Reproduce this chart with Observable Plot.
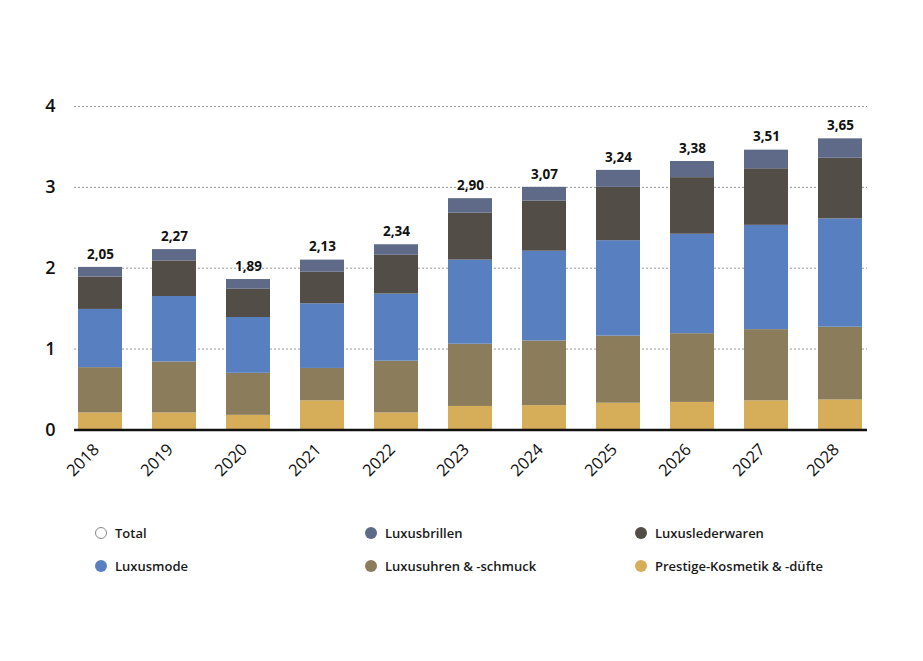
<!DOCTYPE html>
<html><head><meta charset="utf-8">
<script src="https://cdn.jsdelivr.net/npm/d3@7"></script>
<script src="https://cdn.jsdelivr.net/npm/@observablehq/plot@0.6"></script>
<style>
html,body{margin:0;padding:0;background:#fff;}
#wrap{position:relative;width:923px;height:661px;font-family:"Open Sans",sans-serif;}
.item{position:absolute;display:flex;align-items:center;font-size:13px;font-weight:600;color:#1a1a1a;white-space:nowrap;}
.dot{width:12px;height:12px;border-radius:50%;margin-right:8px;box-sizing:border-box;}
</style></head><body>
<div id="wrap"><div id="chart"></div><div id="legend"></div></div>
<script>
const years = ["2018","2019","2020","2021","2022","2023","2024","2025","2026","2027","2028"];
const kosmetik = [0.21,0.21,0.18,0.36,0.21,0.29,0.30,0.33,0.34,0.36,0.37];
const uhren    = [0.56,0.63,0.52,0.40,0.64,0.77,0.80,0.83,0.85,0.88,0.90];
const mode     = [0.72,0.81,0.69,0.80,0.83,1.04,1.11,1.18,1.23,1.29,1.34];
const leder    = [0.40,0.44,0.35,0.39,0.48,0.58,0.62,0.66,0.70,0.70,0.75];
const brillen  = [0.12,0.14,0.12,0.15,0.13,0.18,0.17,0.21,0.20,0.23,0.24];
const totals   = [2.05,2.27,1.89,2.13,2.34,2.90,3.07,3.24,3.38,3.51,3.65];
const seriesNames = ["Prestige-Kosmetik & -düfte","Luxusuhren & -schmuck","Luxusmode","Luxuslederwaren","Luxusbrillen"];
const seriesColors = ["#d6ad58","#8b7d5c","#5880c1","#524d47","#5f6a89"];
const yTicks = [0,1,2,3,4];
const legendItems = [
  {name:"Total", color:"#ffffff", stroke:"#888"},
  {name:"Luxusbrillen", color:"#5f6a89"},
  {name:"Luxuslederwaren", color:"#524d47"},
  {name:"Luxusmode", color:"#5880c1"},
  {name:"Luxusuhren & -schmuck", color:"#8b7d5c"},
  {name:"Prestige-Kosmetik & -düfte", color:"#d6ad58"}
];

const seriesValues = [kosmetik, uhren, mode, leder, brillen];
const rows = [];
years.forEach((yr, i) => {
  seriesNames.forEach((s, k) => rows.push({year: yr, series: s, value: seriesValues[k][i]}));
});
const tops = years.map((yr, i) => ({
  year: yr,
  top: seriesValues.reduce((a, arr) => a + arr[i], 0),
  label: totals[i].toFixed(2).replace(".", ",")
}));

const chart = Plot.plot({
  width: 923, height: 500,
  marginLeft: 74, marginRight: 56, marginTop: 106, marginBottom: 70.6,
  style: {fontFamily: '"Open Sans", sans-serif', background: "#fff", overflow: "visible"},
  x: {type: "band", domain: years, paddingInner: 0.4, paddingOuter: 0, label: null},
  y: {domain: [0, 4], label: null},
  color: {domain: seriesNames, range: seriesColors},
  marks: [
    Plot.gridY([1,2,3,4], {stroke: "#9a9a9a", strokeOpacity: 1, strokeDasharray: "2,2", strokeWidth: 1}),
    Plot.barY(rows, {x: "year", y: "value", fill: "series"}),
    Plot.ruleY([0], {stroke: "#111", strokeWidth: 2.5}),
    Plot.text(tops, {x: "year", y: "top", text: "label", dy: -13, fontWeight: 700, fontSize: 13.5, fill: "#111"}),
    Plot.axisY(yTicks, {tickSize: 0, tickPadding: 19, fontSize: 18, fontWeight: 600, fill: "#111", label: null, tickFormat: d => String(d)}),
    Plot.axisX({tickSize: 0, tickRotate: -45, tickPadding: 17, dx: -4, fontSize: 16.5, fill: "#111", label: null})
  ]
});
document.getElementById("chart").appendChild(chart);

const legend = document.getElementById("legend");
const colX = [95, 365, 635];
const rowY = [533, 566];
legendItems.forEach((it, i) => {
  const d = document.createElement("div");
  d.className = "item";
  d.style.left = colX[i % 3] + "px";
  d.style.top = (rowY[Math.floor(i / 3)] - 9) + "px";
  const dot = document.createElement("span");
  dot.className = "dot";
  dot.style.background = it.color;
  dot.style.border = it.stroke ? "1.5px solid " + it.stroke : "none";
  const t = document.createElement("span");
  t.textContent = it.name;
  d.appendChild(dot); d.appendChild(t);
  legend.appendChild(d);
});
</script>
</body></html>
